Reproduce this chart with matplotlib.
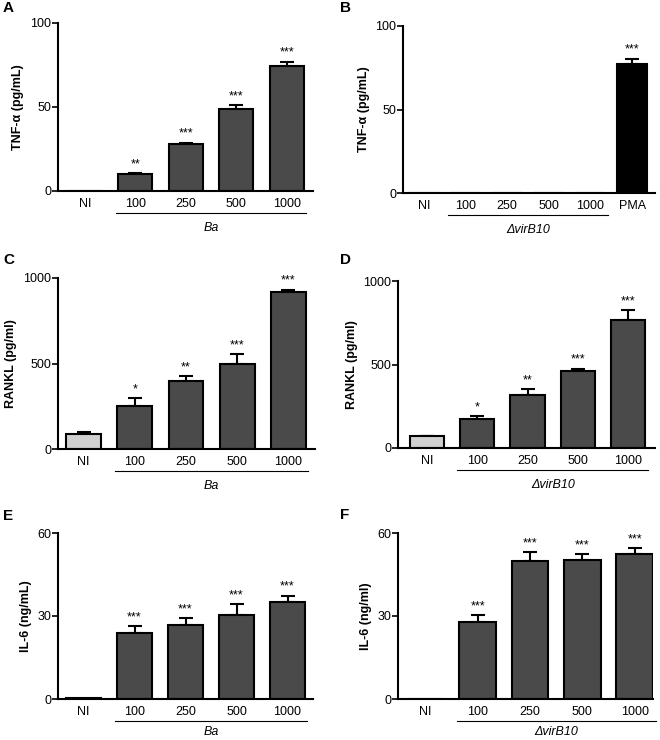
import matplotlib
matplotlib.use("Agg")
import matplotlib.pyplot as plt

plt.rcParams['font.family'] = ['Liberation Sans', 'DejaVu Sans']

# ---- data ----
doses = ['100', '250', '500', '1000']

tnf_ba = [0, 10, 27.8, 48.8, 74.4]
tnf_ba_err = [0, 0.7, 1.0, 2.2, 2.6]
tnf_ba_sig = ['', '**', '***', '***', '***']

tnf_vir = [0, 0, 0, 0, 0, 77.1]
tnf_vir_err = [0, 0, 0, 0, 0, 3.4]
tnf_vir_sig = ['', '', '', '', '', '***']

rankl_ba = [90, 250, 398, 496, 916]
rankl_ba_err = [8, 47, 26, 59, 16]
rankl_ba_sig = ['', '*', '**', '***', '***']

rankl_vir = [70, 176, 317, 461, 768]
rankl_vir_err = [4, 14, 36, 14, 60]
rankl_vir_sig = ['', '*', '**', '***', '***']

il6_ba = [0.3, 24.0, 26.8, 30.2, 35.0]
il6_ba_err = [0, 2.4, 2.5, 4.0, 2.4]
il6_ba_sig = ['', '***', '***', '***', '***']

il6_vir = [0, 27.8, 50.0, 50.2, 52.5]
il6_vir_err = [0, 2.6, 3.2, 2.2, 1.9]
il6_vir_sig = ['', '***', '***', '***', '***']

W, H = 660, 740
DARK = '#4a4a4a'
LIGHT = '#d0d0d0'
FS = 9

fig = plt.figure(figsize=(W / 100, H / 100), dpi=100)


def add_panel(box, letter, letter_xy, labels, values, errors, sig, colors,
              ymax, yticks, ylabel, group, group_span, xlim, width,
              line_off=22, label_off=37):
    x0, y0, x1, y1 = box  # pixel box: left, top, right, bottom(zero line)
    ax = fig.add_axes([x0 / W, 1 - y1 / H, (x1 - x0) / W, (y1 - y0) / H])
    xs = list(range(len(values)))
    ax.bar(xs, values, width=width, color=colors, edgecolor='black',
           linewidth=1.5, zorder=2)
    for x, v, e in zip(xs, values, errors):
        if e > 0:
            ax.errorbar(x, v, yerr=[[0], [e]], fmt='none', ecolor='black',
                        elinewidth=1.5, capsize=5, capthick=1.5, zorder=1)
    for x, v, e, s in zip(xs, values, errors, sig):
        if s:
            ax.annotate(s, (x, v + e), xytext=(0, 2), textcoords='offset points',
                        ha='center', va='bottom', fontsize=FS)
    ax.set_xlim(*xlim)
    ax.set_ylim(0, ymax)
    ax.set_yticks(yticks)
    ax.set_xticks(xs)
    ax.set_xticklabels(labels, fontsize=FS)
    ax.tick_params(axis='x', length=0, pad=5)
    ax.tick_params(axis='y', length=4, width=1.2, labelsize=FS, pad=1)
    for sp in ['top', 'right']:
        ax.spines[sp].set_visible(False)
    for sp in ['left', 'bottom']:
        ax.spines[sp].set_linewidth(1.5)
    ax.set_ylabel(ylabel, fontsize=FS, fontweight='bold')
    # group underline and label
    ga, gb = group_span
    trans = ax.get_xaxis_transform()
    line_y = -line_off / (y1 - y0)
    ax.plot([ga - width / 2 - 0.05, gb + width / 2 + 0.05], [line_y, line_y],
            color='black', lw=0.8, transform=trans, clip_on=False)
    ax.text((ga + gb) / 2, -label_off / (y1 - y0), group, transform=trans,
            ha='center', va='center', fontsize=FS, style='italic')
    fig.text(letter_xy[0] / W, 1 - letter_xy[1] / H, letter, fontsize=11,
             fontweight='bold', ha='left', va='center')
    return ax


ba_labels = ['NI'] + doses
vir_labels = ['NI'] + doses
c5 = [LIGHT] + [DARK] * 4

add_panel((58, 23, 313, 191), 'A', (3, 8), ba_labels, tnf_ba, tnf_ba_err,
          tnf_ba_sig, [DARK] * 5, 100, [0, 50, 100], 'TNF-α (pg/mL)', 'Ba',
          (1, 4), (-0.53, 4.52), 0.68)
add_panel((403, 26, 655, 193), 'B', (340, 8), vir_labels + ['PMA'], tnf_vir,
          tnf_vir_err, tnf_vir_sig, [DARK] * 5 + ['black'], 100, [0, 50, 100],
          'TNF-α (pg/mL)', 'ΔvirB10', (1, 4), (-0.5, 5.55), 0.72)
add_panel((58, 278, 315, 449), 'C', (3, 260), ba_labels, rankl_ba,
          rankl_ba_err, rankl_ba_sig, c5, 1000, [0, 500, 1000],
          'RANKL (pg/ml)', 'Ba', (1, 4), (-0.5, 4.52), 0.68)
add_panel((398, 281, 655, 448), 'D', (340, 260), vir_labels, rankl_vir,
          rankl_vir_err, rankl_vir_sig, c5, 1000, [0, 500, 1000],
          'RANKL (pg/ml)', 'ΔvirB10', (1, 4), (-0.57, 4.53), 0.68)
add_panel((58, 533, 313, 699), 'E', (3, 516), ba_labels, il6_ba, il6_ba_err,
          il6_ba_sig, [DARK] * 5, 60, [0, 30, 60], 'IL-6 (ng/mL)', 'Ba',
          (1, 4), (-0.5, 4.5), 0.68, line_off=22, label_off=33)
add_panel((398, 533, 653, 699), 'F', (340, 515), vir_labels, il6_vir,
          il6_vir_err, il6_vir_sig, [DARK] * 5, 60, [0, 30, 60],
          'IL-6 (ng/ml)', 'ΔvirB10', (1, 4), (-0.52, 4.35), 0.7,
          line_off=22, label_off=33)

fig.savefig('out.png', dpi=100)
